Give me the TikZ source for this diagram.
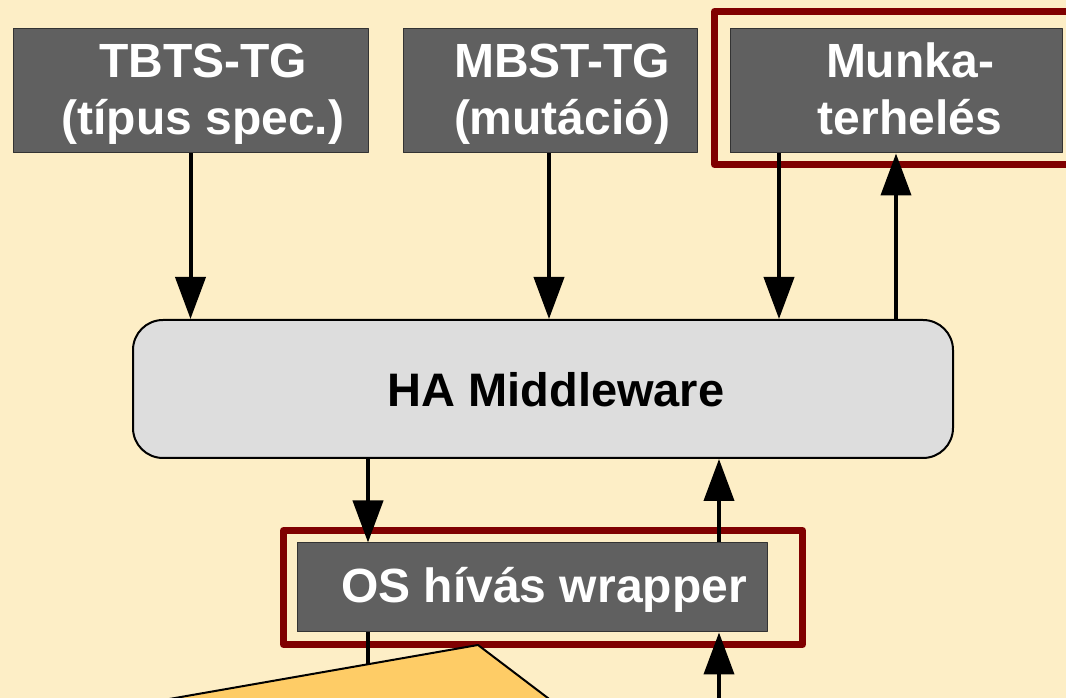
\documentclass[tikz,border=0pt]{standalone}
\usepackage{fontspec}
\setmainfont{Liberation Sans}
\usetikzlibrary{arrows.meta}

\definecolor{bgcream}{RGB}{253,238,198}
\definecolor{boxgrey}{RGB}{96,96,96}
\definecolor{hagrey}{RGB}{221,221,221}
\definecolor{framered}{RGB}{128,0,0}
\definecolor{wedgeyellow}{RGB}{254,204,102}

\begin{document}
\begin{tikzpicture}[
        x = 1pt, y = 1pt,
        line join=round,
        greybox/.style = {draw=black!80, line width=1pt, fill=boxgrey, inner sep=0pt},
        boxtext/.style = {text=white, font=\fontsize{48}{57}\selectfont\bfseries, align=center, inner sep=0pt},
        redframe/.style = {draw=framered, line width=7pt},
        arr/.style = {line width=4pt, -{Triangle[length=42pt, width=30pt]}}
    ]

    \useasboundingbox (0, 0) rectangle (1066, 698);
    \clip (0, 0) rectangle (1066, 698);
    \fill[bgcream] (0, 0) rectangle (1066, 698);

    \node[greybox, minimum width=355pt, minimum height=124pt] (tbts) at (190.5, 607) {};
    \node[boxtext] (tbtsT) at (203, 604) {TBTS-TG\\(típus spec.)};

    \node[greybox, minimum width=294pt, minimum height=124pt] (mbst) at (550, 607) {};
    \node[boxtext] (mbstT) at (562, 604) {MBST-TG\\(mutáció)};

    \node[greybox, minimum width=332pt, minimum height=124pt] (munka) at (896, 607) {};
    \node[boxtext] (munkaT) at (910, 609) {Munka-\\terhelés};
    \draw[redframe] ([shift={(-15, -11)}]munka.south west) rectangle ([shift={(20, 17)}]munka.north east);

    \node[draw=black, line width=2pt, fill=hagrey, rounded corners=30pt,
          minimum width=820pt, minimum height=138pt] (ha) at (543, 309) {};
    \node[inner sep=0pt, font=\fontsize{47}{56}\selectfont\bfseries] (haT) at (556, 308) {HA Middleware};

    \node[greybox, minimum width=470pt, minimum height=89pt] (os) at (532, 110.5) {};
    \node[boxtext] (osT) at (544, 108) {OS hívás wrapper};
    \draw[redframe] ([shift={(-13, -12)}]os.south west) rectangle ([shift={(35, 12)}]os.north east);

    \draw[arr] (tbts.south) -- (tbts.south |- ha.north);
    \draw[arr] ([xshift=-1pt]mbst.south) -- ([xshift=-1pt]mbst.south |- ha.north);
    \draw[arr] ([xshift=-117pt]munka.south) -- ([xshift=-117pt]munka.south |- ha.north);
    \draw[arr] (munka.south |- ha.north) -- (munka.south);

    \draw[arr] ([xshift=-164pt]os.north |- ha.south) -- ([xshift=-164pt]os.north);
    \draw[arr] ([xshift=187pt]os.north) -- ([xshift=187pt]os.north |- ha.south);

    \coordinate (osdown) at (368, 20);
    \coordinate (osup) at (719, -5);
    \draw[line width=4pt] ([xshift=-164pt]os.south) -- (osdown);
    \draw[arr] (osup) -- ([xshift=187pt]os.south);

    \draw[line width=2pt, fill=wedgeyellow] (118, -10) -- (478, 53) -- (561, -10) -- cycle;
\end{tikzpicture}
\end{document}
